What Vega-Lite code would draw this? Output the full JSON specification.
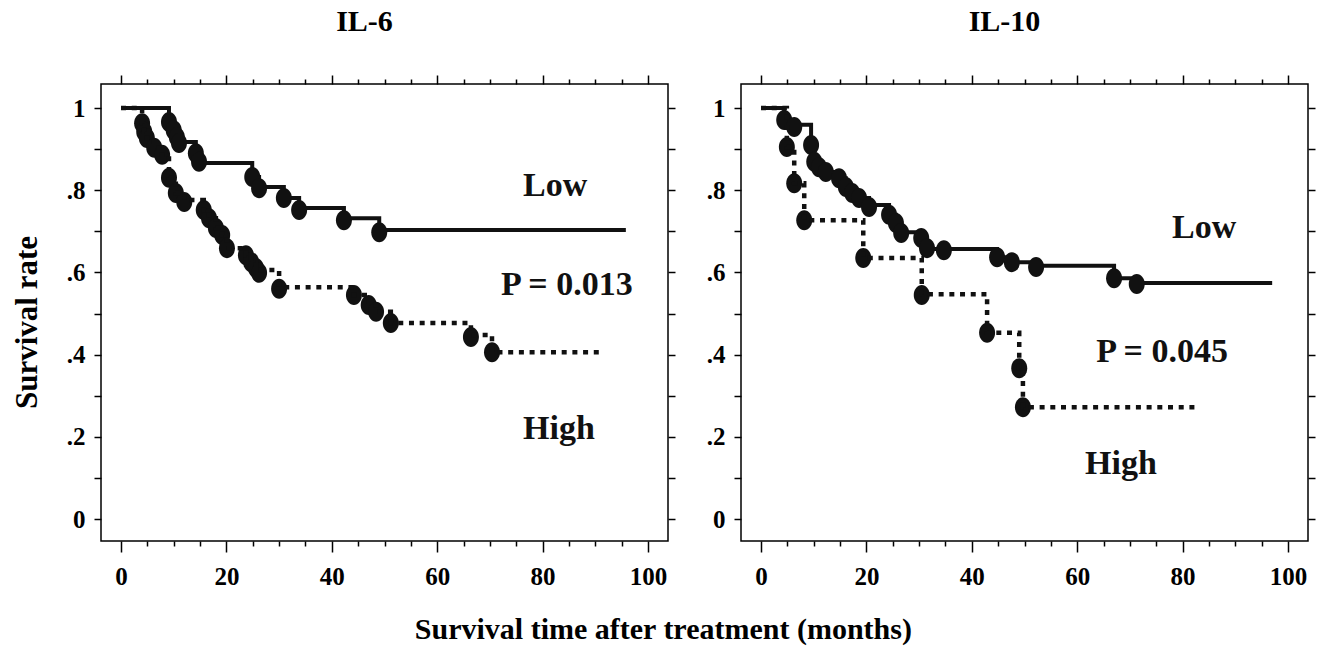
{
  "$schema": "https://vega.github.io/schema/vega-lite/v6.json",
  "autosize": {"type": "pad"},
  "padding": {"left": 10, "top": 6, "right": 5, "bottom": 5},
  "background": "white",
  "bounds": "flush",
  "spacing": 73,
  "title": {"text": "Survival time after treatment (months)", "orient": "bottom", "anchor": "middle", "font": "Liberation Serif", "fontWeight": "bold", "fontSize": 30, "color": "black", "baseline": "alphabetic", "offset": 49},
  "datasets": {
    "lines": [
      {"panel": "IL-6", "group": "Low", "t": 0, "s": 1.0},
      {"panel": "IL-6", "group": "Low", "t": 9.1, "s": 0.966},
      {"panel": "IL-6", "group": "Low", "t": 10, "s": 0.946},
      {"panel": "IL-6", "group": "Low", "t": 10.6, "s": 0.929},
      {"panel": "IL-6", "group": "Low", "t": 11, "s": 0.917},
      {"panel": "IL-6", "group": "Low", "t": 14.2, "s": 0.89},
      {"panel": "IL-6", "group": "Low", "t": 14.8, "s": 0.866},
      {"panel": "IL-6", "group": "Low", "t": 24.9, "s": 0.832},
      {"panel": "IL-6", "group": "Low", "t": 26.2, "s": 0.808},
      {"panel": "IL-6", "group": "Low", "t": 30.9, "s": 0.781},
      {"panel": "IL-6", "group": "Low", "t": 33.8, "s": 0.757},
      {"panel": "IL-6", "group": "Low", "t": 42.3, "s": 0.732},
      {"panel": "IL-6", "group": "Low", "t": 49, "s": 0.703},
      {"panel": "IL-6", "group": "Low", "t": 95.8, "s": 0.703},
      {"panel": "IL-6", "group": "High", "t": 0, "s": 1.0},
      {"panel": "IL-6", "group": "High", "t": 4, "s": 0.963},
      {"panel": "IL-6", "group": "High", "t": 4.4, "s": 0.942},
      {"panel": "IL-6", "group": "High", "t": 4.9, "s": 0.927},
      {"panel": "IL-6", "group": "High", "t": 6.3, "s": 0.903},
      {"panel": "IL-6", "group": "High", "t": 7.8, "s": 0.886},
      {"panel": "IL-6", "group": "High", "t": 9.1, "s": 0.83},
      {"panel": "IL-6", "group": "High", "t": 10.4, "s": 0.793},
      {"panel": "IL-6", "group": "High", "t": 12, "s": 0.776},
      {"panel": "IL-6", "group": "High", "t": 15.7, "s": 0.752},
      {"panel": "IL-6", "group": "High", "t": 16.7, "s": 0.732},
      {"panel": "IL-6", "group": "High", "t": 18, "s": 0.708},
      {"panel": "IL-6", "group": "High", "t": 19.2, "s": 0.691},
      {"panel": "IL-6", "group": "High", "t": 20.1, "s": 0.659},
      {"panel": "IL-6", "group": "High", "t": 23.7, "s": 0.642},
      {"panel": "IL-6", "group": "High", "t": 24.7, "s": 0.625},
      {"panel": "IL-6", "group": "High", "t": 25.6, "s": 0.606},
      {"panel": "IL-6", "group": "High", "t": 30, "s": 0.564},
      {"panel": "IL-6", "group": "High", "t": 44.2, "s": 0.545},
      {"panel": "IL-6", "group": "High", "t": 47, "s": 0.521},
      {"panel": "IL-6", "group": "High", "t": 48.4, "s": 0.504},
      {"panel": "IL-6", "group": "High", "t": 51.2, "s": 0.477},
      {"panel": "IL-6", "group": "High", "t": 66.4, "s": 0.448},
      {"panel": "IL-6", "group": "High", "t": 70.4, "s": 0.406},
      {"panel": "IL-6", "group": "High", "t": 91, "s": 0.406},
      {"panel": "IL-10", "group": "Low", "t": 0, "s": 1.0},
      {"panel": "IL-10", "group": "Low", "t": 4.4, "s": 0.971},
      {"panel": "IL-10", "group": "Low", "t": 6.3, "s": 0.959},
      {"panel": "IL-10", "group": "Low", "t": 9.5, "s": 0.91},
      {"panel": "IL-10", "group": "Low", "t": 10.1, "s": 0.869},
      {"panel": "IL-10", "group": "Low", "t": 11, "s": 0.856},
      {"panel": "IL-10", "group": "Low", "t": 12.3, "s": 0.844},
      {"panel": "IL-10", "group": "Low", "t": 14.8, "s": 0.829},
      {"panel": "IL-10", "group": "Low", "t": 16.1, "s": 0.808},
      {"panel": "IL-10", "group": "Low", "t": 17.3, "s": 0.793},
      {"panel": "IL-10", "group": "Low", "t": 18.6, "s": 0.781},
      {"panel": "IL-10", "group": "Low", "t": 20.5, "s": 0.764},
      {"panel": "IL-10", "group": "Low", "t": 24.3, "s": 0.74},
      {"panel": "IL-10", "group": "Low", "t": 25.6, "s": 0.72},
      {"panel": "IL-10", "group": "Low", "t": 26.6, "s": 0.698},
      {"panel": "IL-10", "group": "Low", "t": 30.4, "s": 0.684},
      {"panel": "IL-10", "group": "Low", "t": 31.5, "s": 0.657},
      {"panel": "IL-10", "group": "Low", "t": 44.8, "s": 0.637},
      {"panel": "IL-10", "group": "Low", "t": 47.6, "s": 0.625},
      {"panel": "IL-10", "group": "Low", "t": 52.2, "s": 0.616},
      {"panel": "IL-10", "group": "Low", "t": 67, "s": 0.586},
      {"panel": "IL-10", "group": "Low", "t": 71.3, "s": 0.574},
      {"panel": "IL-10", "group": "Low", "t": 97, "s": 0.574},
      {"panel": "IL-10", "group": "High", "t": 0, "s": 1.0},
      {"panel": "IL-10", "group": "High", "t": 4.9, "s": 0.905},
      {"panel": "IL-10", "group": "High", "t": 6.3, "s": 0.817},
      {"panel": "IL-10", "group": "High", "t": 8.2, "s": 0.727},
      {"panel": "IL-10", "group": "High", "t": 19.4, "s": 0.635},
      {"panel": "IL-10", "group": "High", "t": 30.5, "s": 0.547},
      {"panel": "IL-10", "group": "High", "t": 42.9, "s": 0.453},
      {"panel": "IL-10", "group": "High", "t": 49, "s": 0.367},
      {"panel": "IL-10", "group": "High", "t": 49.7, "s": 0.272},
      {"panel": "IL-10", "group": "High", "t": 82.7, "s": 0.272}
    ],
    "censors": [
      {"panel": "IL-6", "group": "Low", "t": 9.1, "s": 0.966},
      {"panel": "IL-6", "group": "Low", "t": 10, "s": 0.946},
      {"panel": "IL-6", "group": "Low", "t": 10.6, "s": 0.929},
      {"panel": "IL-6", "group": "Low", "t": 11, "s": 0.915},
      {"panel": "IL-6", "group": "Low", "t": 14.2, "s": 0.89},
      {"panel": "IL-6", "group": "Low", "t": 14.8, "s": 0.869},
      {"panel": "IL-6", "group": "Low", "t": 24.9, "s": 0.832},
      {"panel": "IL-6", "group": "Low", "t": 26.2, "s": 0.805},
      {"panel": "IL-6", "group": "Low", "t": 30.9, "s": 0.781},
      {"panel": "IL-6", "group": "Low", "t": 33.8, "s": 0.752},
      {"panel": "IL-6", "group": "Low", "t": 42.3, "s": 0.727},
      {"panel": "IL-6", "group": "Low", "t": 49, "s": 0.698},
      {"panel": "IL-6", "group": "High", "t": 4, "s": 0.963},
      {"panel": "IL-6", "group": "High", "t": 4.4, "s": 0.942},
      {"panel": "IL-6", "group": "High", "t": 4.9, "s": 0.927},
      {"panel": "IL-6", "group": "High", "t": 6.3, "s": 0.903},
      {"panel": "IL-6", "group": "High", "t": 7.8, "s": 0.886},
      {"panel": "IL-6", "group": "High", "t": 9.1, "s": 0.83},
      {"panel": "IL-6", "group": "High", "t": 10.4, "s": 0.793},
      {"panel": "IL-6", "group": "High", "t": 12, "s": 0.771},
      {"panel": "IL-6", "group": "High", "t": 15.7, "s": 0.752},
      {"panel": "IL-6", "group": "High", "t": 16.7, "s": 0.732},
      {"panel": "IL-6", "group": "High", "t": 18, "s": 0.708},
      {"panel": "IL-6", "group": "High", "t": 19.2, "s": 0.691},
      {"panel": "IL-6", "group": "High", "t": 20.1, "s": 0.659},
      {"panel": "IL-6", "group": "High", "t": 23.7, "s": 0.642},
      {"panel": "IL-6", "group": "High", "t": 24.7, "s": 0.625},
      {"panel": "IL-6", "group": "High", "t": 25.6, "s": 0.611},
      {"panel": "IL-6", "group": "High", "t": 26.2, "s": 0.599},
      {"panel": "IL-6", "group": "High", "t": 30, "s": 0.56},
      {"panel": "IL-6", "group": "High", "t": 44.2, "s": 0.545},
      {"panel": "IL-6", "group": "High", "t": 47, "s": 0.521},
      {"panel": "IL-6", "group": "High", "t": 48.4, "s": 0.504},
      {"panel": "IL-6", "group": "High", "t": 51.2, "s": 0.477},
      {"panel": "IL-6", "group": "High", "t": 66.4, "s": 0.443},
      {"panel": "IL-6", "group": "High", "t": 70.4, "s": 0.406},
      {"panel": "IL-10", "group": "Low", "t": 4.4, "s": 0.971},
      {"panel": "IL-10", "group": "Low", "t": 6.3, "s": 0.954},
      {"panel": "IL-10", "group": "Low", "t": 9.5, "s": 0.91},
      {"panel": "IL-10", "group": "Low", "t": 10.1, "s": 0.869},
      {"panel": "IL-10", "group": "Low", "t": 11, "s": 0.856},
      {"panel": "IL-10", "group": "Low", "t": 12.3, "s": 0.844},
      {"panel": "IL-10", "group": "Low", "t": 14.8, "s": 0.829},
      {"panel": "IL-10", "group": "Low", "t": 16.1, "s": 0.808},
      {"panel": "IL-10", "group": "Low", "t": 17.3, "s": 0.793},
      {"panel": "IL-10", "group": "Low", "t": 18.6, "s": 0.781},
      {"panel": "IL-10", "group": "Low", "t": 20.5, "s": 0.759},
      {"panel": "IL-10", "group": "Low", "t": 24.3, "s": 0.74},
      {"panel": "IL-10", "group": "Low", "t": 25.6, "s": 0.72},
      {"panel": "IL-10", "group": "Low", "t": 26.6, "s": 0.696},
      {"panel": "IL-10", "group": "Low", "t": 30.4, "s": 0.684},
      {"panel": "IL-10", "group": "Low", "t": 31.5, "s": 0.659},
      {"panel": "IL-10", "group": "Low", "t": 34.7, "s": 0.654},
      {"panel": "IL-10", "group": "Low", "t": 44.8, "s": 0.637},
      {"panel": "IL-10", "group": "Low", "t": 47.6, "s": 0.625},
      {"panel": "IL-10", "group": "Low", "t": 52.2, "s": 0.613},
      {"panel": "IL-10", "group": "Low", "t": 67, "s": 0.586},
      {"panel": "IL-10", "group": "Low", "t": 71.3, "s": 0.572},
      {"panel": "IL-10", "group": "High", "t": 4.9, "s": 0.905},
      {"panel": "IL-10", "group": "High", "t": 6.3, "s": 0.817},
      {"panel": "IL-10", "group": "High", "t": 8.2, "s": 0.727},
      {"panel": "IL-10", "group": "High", "t": 19.4, "s": 0.635},
      {"panel": "IL-10", "group": "High", "t": 30.5, "s": 0.545},
      {"panel": "IL-10", "group": "High", "t": 42.9, "s": 0.453},
      {"panel": "IL-10", "group": "High", "t": 49, "s": 0.367},
      {"panel": "IL-10", "group": "High", "t": 49.7, "s": 0.272}
    ],
    "notes": [
      {"panel": "IL-6", "label": "Low", "t": 82.4, "s": 0.786},
      {"panel": "IL-6", "label": "P = 0.013", "t": 84.6, "s": 0.545},
      {"panel": "IL-6", "label": "High", "t": 83.1, "s": 0.195},
      {"panel": "IL-10", "label": "Low", "t": 84.1, "s": 0.684},
      {"panel": "IL-10", "label": "P = 0.045", "t": 76.1, "s": 0.382},
      {"panel": "IL-10", "label": "High", "t": 68.3, "s": 0.109}
    ]
  },
  "hconcat": [
    {
      "title": {"text": "IL-6", "font": "Liberation Serif", "fontWeight": "bold", "fontSize": 30, "color": "black", "baseline": "alphabetic", "offset": 13, "dx": -20, "anchor": "middle"},
      "width": 567,
      "height": 457,
      "layer": [
        {
          "data": {"name": "lines"},
          "transform": [{"filter": "datum.panel == 'IL-6' && datum.group == 'Low'"}],
          "mark": {"type": "line", "interpolate": "step-after", "color": "#111111", "strokeWidth": 4, "strokeCap": "butt"},
          "encoding": {
            "x": {"field": "t", "type": "quantitative", "scale": {"domain": [-3.8, 103.8], "nice": false, "zero": false},
              "axis": {"orient": "bottom", "title": null, "values": [0,5,10,15,20,25,30,35,40,45,50,55,60,65,70,75,80,85,90,95,100],
                "tickSize": {"condition": {"test": "datum.value % 20 == 0", "value": 11}, "value": 5},
                "labelExpr": "datum.value % 20 == 0 ? datum.label : ''", "labelPadding": 12}},
            "y": {"field": "s", "type": "quantitative", "scale": {"domain": [-0.0535, 1.0584], "nice": false, "zero": false},
              "axis": {"orient": "left", "title": "Survival rate", "titleFontSize": 31, "titleX": -65, "titleY": 238, "titleBaseline": "alphabetic", "titleAngle": -90,
                "values": [0,0.1,0.2,0.3,0.4,0.5,0.6,0.7,0.8,0.9,1],
                "tickSize": 7, "labelPadding": 9,
                "labelExpr": "datum.value == 0 ? '0' : datum.value == 1 ? '1' : (round(datum.value*10) % 2 == 0 ? '.' + round(datum.value*10) : '')"}}
          }
        },
        {
          "data": {"name": "censors"},
          "transform": [{"filter": "datum.panel == 'IL-6'"}],
          "mark": {"type": "point", "filled": true, "opacity": 1, "color": "#111111", "size": 400, "shape": "M0,-1A0.8,1 0 1,1 0,1A0.8,1 0 1,1 0,-1Z"},
          "encoding": {
            "x": {"field": "t", "type": "quantitative",
              "axis": {"orient": "top", "title": null, "labels": false, "values": [0,5,10,15,20,25,30,35,40,45,50,55,60,65,70,75,80,85,90,95,100],
                "tickSize": {"condition": {"test": "datum.value % 20 == 0", "value": 9}, "value": 5}}},
            "y": {"field": "s", "type": "quantitative",
              "axis": {"orient": "right", "title": null, "labels": false, "values": [0,0.1,0.2,0.3,0.4,0.5,0.6,0.7,0.8,0.9,1], "tickSize": 7}}
          }
        },
        {
          "data": {"name": "lines"},
          "transform": [{"filter": "datum.panel == 'IL-6' && datum.group == 'High'"}],
          "mark": {"type": "line", "interpolate": "step-after", "color": "#111111", "strokeWidth": 4.5, "strokeCap": "butt", "strokeDash": [5, 5.7]},
          "encoding": {
            "x": {"field": "t", "type": "quantitative", "axis": null},
            "y": {"field": "s", "type": "quantitative", "axis": null}
          }
        },
        {
          "data": {"name": "notes"},
          "transform": [{"filter": "datum.panel == 'IL-6'"}],
          "mark": {"type": "text", "font": "Liberation Serif", "fontWeight": "bold", "fontSize": 34, "color": "#111111", "align": "center", "baseline": "alphabetic"},
          "encoding": {
            "x": {"field": "t", "type": "quantitative", "axis": null},
            "y": {"field": "s", "type": "quantitative", "axis": null},
            "text": {"field": "label"}
          }
        }
      ],
      "resolve": {"axis": {"x": "independent", "y": "independent"}}
    },
    {
      "title": {"text": "IL-10", "font": "Liberation Serif", "fontWeight": "bold", "fontSize": 30, "color": "black", "baseline": "alphabetic", "offset": 13, "dx": -20, "anchor": "middle"},
      "width": 567,
      "height": 457,
      "layer": [
        {
          "data": {"name": "lines"},
          "transform": [{"filter": "datum.panel == 'IL-10' && datum.group == 'Low'"}],
          "mark": {"type": "line", "interpolate": "step-after", "color": "#111111", "strokeWidth": 4, "strokeCap": "butt"},
          "encoding": {
            "x": {"field": "t", "type": "quantitative", "scale": {"domain": [-3.8, 103.8], "nice": false, "zero": false},
              "axis": {"orient": "bottom", "title": null, "values": [0,5,10,15,20,25,30,35,40,45,50,55,60,65,70,75,80,85,90,95,100],
                "tickSize": {"condition": {"test": "datum.value % 20 == 0", "value": 11}, "value": 5},
                "labelExpr": "datum.value % 20 == 0 ? datum.label : ''", "labelPadding": 12}},
            "y": {"field": "s", "type": "quantitative", "scale": {"domain": [-0.0535, 1.0584], "nice": false, "zero": false},
              "axis": {"orient": "left", "title": null,
                "values": [0,0.1,0.2,0.3,0.4,0.5,0.6,0.7,0.8,0.9,1],
                "tickSize": 7, "labelPadding": 9,
                "labelExpr": "datum.value == 0 ? '0' : datum.value == 1 ? '1' : (round(datum.value*10) % 2 == 0 ? '.' + round(datum.value*10) : '')"}}
          }
        },
        {
          "data": {"name": "censors"},
          "transform": [{"filter": "datum.panel == 'IL-10'"}],
          "mark": {"type": "point", "filled": true, "opacity": 1, "color": "#111111", "size": 400, "shape": "M0,-1A0.8,1 0 1,1 0,1A0.8,1 0 1,1 0,-1Z"},
          "encoding": {
            "x": {"field": "t", "type": "quantitative",
              "axis": {"orient": "top", "title": null, "labels": false, "values": [0,5,10,15,20,25,30,35,40,45,50,55,60,65,70,75,80,85,90,95,100],
                "tickSize": {"condition": {"test": "datum.value % 20 == 0", "value": 9}, "value": 5}}},
            "y": {"field": "s", "type": "quantitative",
              "axis": {"orient": "right", "title": null, "labels": false, "values": [0,0.1,0.2,0.3,0.4,0.5,0.6,0.7,0.8,0.9,1], "tickSize": 7}}
          }
        },
        {
          "data": {"name": "lines"},
          "transform": [{"filter": "datum.panel == 'IL-10' && datum.group == 'High'"}],
          "mark": {"type": "line", "interpolate": "step-after", "color": "#111111", "strokeWidth": 4.5, "strokeCap": "butt", "strokeDash": [5, 5.7]},
          "encoding": {
            "x": {"field": "t", "type": "quantitative", "axis": null},
            "y": {"field": "s", "type": "quantitative", "axis": null}
          }
        },
        {
          "data": {"name": "notes"},
          "transform": [{"filter": "datum.panel == 'IL-10'"}],
          "mark": {"type": "text", "font": "Liberation Serif", "fontWeight": "bold", "fontSize": 34, "color": "#111111", "align": "center", "baseline": "alphabetic"},
          "encoding": {
            "x": {"field": "t", "type": "quantitative", "axis": null},
            "y": {"field": "s", "type": "quantitative", "axis": null},
            "text": {"field": "label"}
          }
        }
      ],
      "resolve": {"axis": {"x": "independent", "y": "independent"}}
    }
  ],
  "config": {
    "view": {"stroke": "black", "strokeWidth": 1.5},
    "axis": {"domain": false, "grid": false, "tickColor": "black", "tickWidth": 1.5,
      "labelFont": "Liberation Serif", "labelFontWeight": "bold", "labelFontSize": 25, "labelColor": "black",
      "titleFont": "Liberation Serif", "titleFontWeight": "bold", "titleColor": "black"}
  }
}
